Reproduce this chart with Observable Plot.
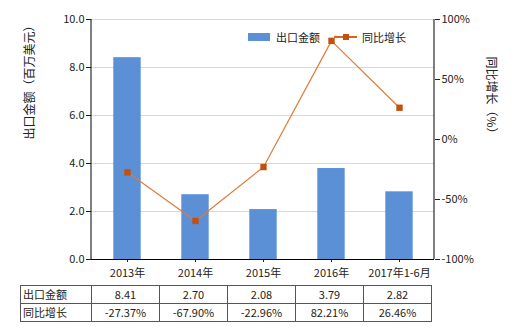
<!DOCTYPE html>
<html><head><meta charset="utf-8">
<script src="https://cdn.jsdelivr.net/npm/d3@7"></script>
<script src="https://cdn.jsdelivr.net/npm/@observablehq/plot@0.6"></script>
<style>
body{margin:0;background:#fff;font-family:"Noto Sans CJK SC","Noto Sans",sans-serif;}
#wrap{position:relative;width:520px;height:330px;overflow:hidden;}
#chart{position:absolute;left:0;top:0;}
.leg{position:absolute;font-size:11px;color:#222;}
table{position:absolute;left:20px;top:285px;border-collapse:collapse;font-size:11px;color:#222;}
td{border:1px solid #555;height:17px;padding:0;text-align:center;width:67px;line-height:17px;}
td.h{text-align:left;width:68px;padding-left:2px;}
</style></head>
<body><div id="wrap"><div id="chart"></div>
<div class="leg" style="left:248px;top:33px;width:22px;height:8px;background:#5b8fd6"></div>
<div class="leg" style="left:276px;top:29px;">出口金额</div>
<div class="leg" style="left:334px;top:36px;width:23px;height:2px;background:#d9661f"></div>
<div class="leg" style="left:343px;top:34px;width:6px;height:6px;background:#c4500e"></div>
<div class="leg" style="left:362px;top:29px;">同比增长</div>
<table id="tbl"></table>
</div>
<script>
const categories = ["2013年", "2014年", "2015年", "2016年", "2017年1-6月"];
const exportValues = [8.41, 2.70, 2.08, 3.79, 2.82];
const growthPct = [-27.37, -67.90, -22.96, 82.21, 26.46];
const leftTicks = [0, 2, 4, 6, 8, 10];
const rightTicks = [-100, -50, 0, 50, 100];

const pctToY = p => (p + 100) / 20;
const bars = categories.map((c, i) => ({c, v: exportValues[i]}));
const pts = categories.map((c, i) => ({c, y: pctToY(growthPct[i])}));

const chart = Plot.plot({
  width: 520, height: 280,
  marginLeft: 91, marginRight: 86, marginTop: 19, marginBottom: 21,
  style: {fontFamily: '"Noto Sans CJK SC","Noto Sans",sans-serif', fontSize: "11px", color: "#222", overflow: "visible"},
  x: {domain: categories, padding: 0},
  y: {domain: [0, 10]},
  marks: [
    Plot.gridY(leftTicks.filter(d => d > 0), {stroke: "#d8d8d8", strokeOpacity: 1}),
    Plot.barY(bars, {x: "c", y: "v", fill: "#5b8fd6", insetLeft: 20.3, insetRight: 20.3}),
    Plot.lineY(pts, {x: "c", y: "y", stroke: "#e07b39", strokeWidth: 1.2}),
    Plot.dot(pts, {x: "c", y: "y", symbol: "square", r: 3.6, fill: "#c4500e", stroke: "none"}),
    Plot.axisY({anchor: "left", ticks: leftTicks, tickFormat: d => d.toFixed(1), tickSize: 5, tickPadding: 2, label: null}),
    Plot.axisY({anchor: "right", ticks: rightTicks.map(pctToY), tickFormat: d => Math.round(d * 20 - 100) + "%", tickSize: 5, tickPadding: 2, label: null}),
    Plot.axisX({tickSize: 3, tickPadding: 7, label: null}),
    Plot.ruleY([0], {stroke: "#000"}),
    Plot.ruleX([0], {x: () => null, stroke: "#000"}),
    Plot.text(["出口金额（百万美元）"], {frameAnchor: "left", dx: -61, rotate: -90, fontSize: 12}),
    Plot.text(["同比增长（%）"], {frameAnchor: "right", dx: 56, rotate: 90, fontSize: 12})
  ]
});
document.getElementById("chart").appendChild(chart);

// vertical axis lines
const svg = d3.select(chart);
[91, 434].forEach(x => svg.append("line").attr("x1", x).attr("x2", x).attr("y1", 19).attr("y2", 259).attr("stroke", "#000"));

const tbl = document.getElementById("tbl");
const r1 = tbl.insertRow(), r2 = tbl.insertRow();
let c = r1.insertCell(); c.className = "h"; c.textContent = "出口金额";
c = r2.insertCell(); c.className = "h"; c.textContent = "同比增长";
exportValues.forEach(v => { r1.insertCell().textContent = v.toFixed(2); });
growthPct.forEach(v => { r2.insertCell().textContent = v.toFixed(2) + "%"; });
</script></body></html>
